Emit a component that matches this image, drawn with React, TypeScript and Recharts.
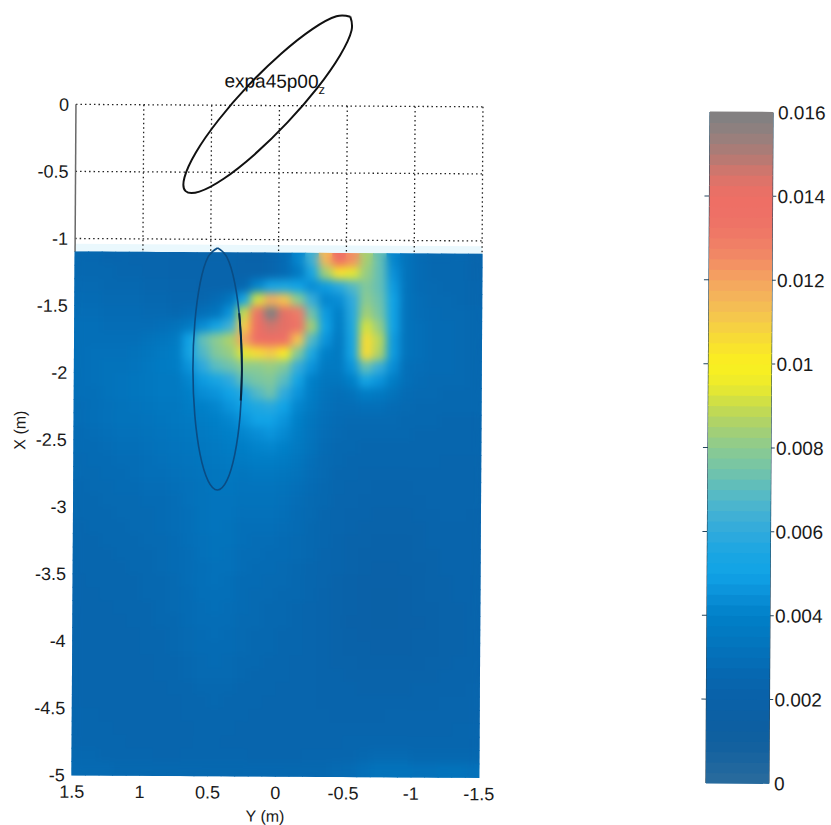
import React from 'react';
import { ReferenceArea, ReferenceLine, Scatter, ScatterChart, XAxis, YAxis } from 'recharts';

// cell values are in units of 0.0001, one row per 0.1 m of X starting at -1.15
const heatRows = [
  [26,26,25,25,24,24,24,23,23,23,23,23,22,22,24,28,42,64,115,140,124,85,72,42,32,28,26,26,26,24],
  [26,26,26,25,25,24,24,23,23,23,23,23,22,22,24,28,36,55,84,104,94,82,72,45,32,28,26,26,26,24],
  [27,27,26,26,26,25,25,24,24,23,23,23,26,42,52,55,50,44,48,58,68,78,72,48,32,28,27,26,26,25],
  [28,28,27,27,27,26,26,25,25,25,28,34,54,92,118,112,80,62,42,44,60,80,74,50,32,29,27,27,26,25],
  [29,29,28,28,28,27,27,26,28,30,34,46,90,134,160,142,130,74,48,40,58,84,76,50,32,29,28,27,27,26],
  [30,30,29,29,29,29,30,32,36,44,52,64,110,140,146,142,134,84,50,38,56,92,82,50,32,30,28,28,27,26],
  [30,30,30,30,30,32,34,36,50,72,80,86,120,138,140,136,112,68,46,36,54,106,88,48,32,30,28,28,27,26],
  [30,31,31,31,32,34,36,38,52,68,78,82,94,106,110,102,78,56,40,36,52,106,86,48,32,30,28,28,27,26],
  [30,31,32,32,33,35,37,38,46,60,70,74,80,80,82,78,62,46,36,36,46,72,62,44,30,29,28,28,27,26],
  [30,31,32,33,34,35,36,36,42,48,54,60,72,76,78,70,52,40,34,34,40,52,46,38,30,28,27,27,27,26],
  [30,30,32,33,34,35,36,36,40,44,46,50,58,68,74,60,46,38,32,30,32,38,36,32,28,27,27,26,26,26],
  [29,30,31,32,33,34,35,35,38,40,42,46,50,56,58,50,42,36,31,29,29,30,30,28,27,26,26,26,26,26],
  [29,30,31,32,32,33,34,35,36,38,40,42,46,50,50,46,40,34,30,28,27,27,27,27,26,26,26,25,25,25],
  [28,29,30,31,31,32,33,34,35,36,38,40,42,44,46,43,38,33,29,27,26,26,26,26,26,25,25,25,25,25],
  [28,28,29,30,30,31,32,33,34,35,36,38,39,41,42,40,36,32,28,26,26,25,25,25,25,25,25,25,25,25],
  [27,28,28,29,29,30,31,32,33,34,35,36,37,38,38,37,34,30,27,26,25,25,25,25,25,25,25,24,24,24],
  [27,27,28,28,29,30,30,31,32,33,34,35,34,35,35,34,32,29,27,25,25,24,24,24,24,24,24,24,24,24],
  [26,27,27,28,28,29,29,30,31,32,34,34,33,33,33,32,30,28,26,25,24,24,23,23,23,24,24,24,24,24],
  [26,26,27,27,27,28,28,29,31,32,33,33,32,32,32,31,29,27,26,24,24,23,23,23,23,23,24,24,24,24],
  [26,26,26,27,27,27,28,29,30,32,33,33,31,31,31,30,28,27,25,24,23,23,22,22,22,23,23,24,24,23],
  [25,26,26,26,27,27,28,29,30,32,33,32,30,30,30,29,28,26,25,24,23,22,22,22,22,22,23,23,23,23],
  [25,25,26,26,26,27,27,28,30,31,32,32,30,29,29,28,27,26,25,23,22,22,21,21,21,22,23,23,23,23],
  [25,25,25,26,26,26,27,28,29,31,32,31,29,29,28,28,27,26,24,23,22,21,21,21,21,22,22,23,23,23],
  [25,25,25,25,26,26,27,28,29,30,31,31,29,28,28,27,26,25,24,23,22,21,20,20,21,21,22,23,23,23],
  [24,25,25,25,25,26,26,27,29,30,31,30,28,28,27,27,26,25,24,22,21,20,20,20,20,21,22,22,23,23],
  [24,24,25,25,25,26,26,27,28,30,30,30,28,27,27,26,26,25,23,22,21,20,19,19,20,21,22,22,23,23],
  [24,24,24,25,25,25,26,27,28,29,30,29,28,27,26,26,25,24,23,22,21,20,19,19,20,21,21,22,22,23],
  [24,24,24,24,25,25,26,26,28,29,29,29,27,27,26,26,25,24,23,22,20,20,19,19,20,20,21,22,22,23],
  [24,24,24,24,24,25,25,26,27,28,29,28,27,26,26,25,25,24,23,22,21,20,20,20,20,21,21,22,22,23],
  [24,24,24,24,24,25,25,26,27,28,28,28,27,26,26,25,25,24,23,22,21,21,20,20,20,21,21,22,22,23],
  [24,24,24,24,24,24,25,25,26,27,28,27,26,26,25,25,24,24,23,22,22,21,21,21,21,21,22,22,23,23],
  [24,24,24,24,24,24,25,25,26,27,27,27,26,25,25,25,24,24,23,23,22,22,22,22,22,22,22,23,23,23],
  [24,24,24,24,24,24,24,25,25,26,26,26,25,25,25,24,24,24,23,23,23,22,22,22,22,23,23,23,23,24],
  [24,24,24,24,24,24,24,24,25,25,26,25,25,25,24,24,24,24,23,23,23,23,23,23,23,23,23,24,24,24],
  [25,25,24,24,24,24,24,24,25,25,25,25,25,24,24,24,24,24,24,23,23,23,23,24,24,24,24,24,24,24],
  [25,25,25,24,24,24,24,24,24,25,25,25,24,24,24,24,24,24,24,24,24,24,24,24,24,24,24,24,25,25],
  [25,25,25,25,24,24,24,24,24,25,25,24,24,24,24,24,24,24,24,24,25,25,25,25,25,25,25,25,25,25],
  [26,26,25,25,25,25,24,24,25,25,25,25,25,24,24,24,24,25,25,25,25,26,27,27,27,26,26,26,26,26],
  [27,27,27,26,26,26,26,26,26,26,26,26,26,26,26,26,26,26,26,27,28,30,32,32,32,31,31,32,32,31],
];

const xTicks = [1.5, 1, 0.5, 0, -0.5, -1, -1.5];
const yTicks = [0, -0.5, -1, -1.5, -2, -2.5, -3, -3.5, -4, -4.5, -5];
const gridRows = [0, -0.5, -1];
const barTicks = [0, 0.002, 0.004, 0.006, 0.008, 0.01, 0.012, 0.014, 0.016];

// colorbar read every 0.0005 from 0 to 0.016
const colormap = [
  '#2b6b9c','#1c659f','#10609f','#0c5fa3','#0a61a8','#0766ae','#046fb8','#0278c0','#0080c8','#0a90d8',
  '#11a3e6','#1aa6e2','#30aadd','#45b2d2','#5bbcc0','#74c4a8','#8ccb90','#a8d070','#c8dc4c','#ecea2c',
  '#fbf01e','#f8e030','#f5cc48','#f4b858','#f4a460','#f28c64','#ef7a66','#ee7066','#ee6e64','#d8746a',
  '#b07a74','#92807e','#7e8082',
];

const upperEllipse = [
  { y: -0.518, x: 0.666 }, { y: -0.528, x: 0.564 }, { y: -0.444, x: 0.377 }, { y: -0.28, x: 0.136 },
  { y: -0.06, x: -0.125 }, { y: 0.181, x: -0.365 }, { y: 0.408, x: -0.548 }, { y: 0.586, x: -0.645 },
  { y: 0.688, x: -0.642 }, { y: 0.697, x: -0.54 }, { y: 0.614, x: -0.353 }, { y: 0.45, x: -0.112 },
  { y: 0.23, x: 0.149 }, { y: -0.012, x: 0.389 }, { y: -0.239, x: 0.572 }, { y: -0.416, x: 0.669 },
  { y: -0.518, x: 0.666 },
];

const lowerEllipse = [
  { y: 0.45, x: -1.064 }, { y: 0.381, x: -1.132 }, { y: 0.321, x: -1.327 }, { y: 0.281, x: -1.62 },
  { y: 0.265, x: -1.965 }, { y: 0.276, x: -2.311 }, { y: 0.314, x: -2.604 }, { y: 0.371, x: -2.799 },
  { y: 0.44, x: -2.869 }, { y: 0.509, x: -2.801 }, { y: 0.569, x: -2.606 }, { y: 0.61, x: -2.312 },
  { y: 0.626, x: -1.967 }, { y: 0.614, x: -1.622 }, { y: 0.577, x: -1.329 }, { y: 0.52, x: -1.133 },
  { y: 0.45, x: -1.064 },
];

const lowerEllipseDark = [
  { y: 0.287, x: -1.55 }, { y: 0.272, x: -1.75 }, { y: 0.265, x: -1.965 }, { y: 0.272, x: -2.2 },
];

const FONT = '"Liberation Sans", Arial, sans-serif';
const tickStyle = { fontSize: 18, fontFamily: FONT, fill: '#1a1a1a' };

const PLOT_W = 407;
const PLOT_H = 670.5;
const cellW = PLOT_W / 30;
const cellH = PLOT_H / 50;

const hex = (s: string, i: number) => parseInt(s.slice(1 + i * 2, 3 + i * 2), 16);

// v is in units of 0.0001; blend the two nearest colorbar entries
const colorAt = (v: number) => {
  const t = Math.max(0, Math.min(colormap.length - 1.001, v / 5));
  const i = Math.floor(t);
  const mix = (k: number) => Math.round(hex(colormap[i], k) + (hex(colormap[i + 1], k) - hex(colormap[i], k)) * (t - i));
  return `rgb(${mix(0)},${mix(1)},${mix(2)})`;
};

const heatCells = heatRows.flatMap((row, r) =>
  row.map((v, c) => ({ y: 1.45 - c * 0.1, x: -1.15 - r * 0.1, v })),
);

const barCells = Array.from({ length: 64 }, (_, i) => ({ px: 0.5, level: (i + 0.5) * 0.00025 }));

const HeatCell = (p: any) => (
  <rect
    x={p.cx - cellW / 2 - 0.5}
    y={p.cy - cellH / 2 - 0.5}
    width={cellW + 1}
    height={cellH + 1}
    fill={colorAt(p.payload.v)}
  />
);

const BAR_W = 63;
const BAR_H = 671;
const BarCell = (p: any) => (
  <rect
    x={p.cx - BAR_W / 2}
    y={p.cy - BAR_H / 128 - 0.5}
    width={BAR_W}
    height={BAR_H / 64 + 1}
    fill={colorAt(p.payload.level * 10000)}
  />
);

const NoPoint = () => <g />;

export default function App() {
  return (
    <div
      style={{
        position: 'absolute',
        left: 0,
        top: 0,
        width: 831,
        height: 825,
        transform: 'rotate(0.35deg)',
        transformOrigin: '0 0',
      }}
    >
      <style>{`.heat-blur { filter: url(#heatBlur); clip-path: inset(0); }`}</style>
      <div style={{ position: 'absolute', left: 0, top: 0 }}>
        <ScatterChart width={520} height={825} margin={{ top: 10, right: 36.4, left: 0, bottom: 0 }}>
          <defs>
            <filter id="heatBlur" x="-5%" y="-5%" width="110%" height="110%" colorInterpolationFilters="sRGB">
              <feGaussianBlur stdDeviation="4" />
            </filter>
          </defs>
          <XAxis
            type="number"
            dataKey="y"
            domain={[-1.5, 1.5]}
            reversed
            ticks={xTicks}
            interval={0}
            height={50.5}
            axisLine={false}
            tickLine={false}
            tickMargin={4}
            tick={tickStyle}
          />
          <YAxis
            type="number"
            dataKey="x"
            domain={[-5, 0.7]}
            ticks={yTicks}
            interval={0}
            width={76.6}
            axisLine={false}
            tickLine={false}
            tickMargin={1}
            tick={tickStyle}
          />
          <ReferenceArea x1={-1.5} x2={1.5} y1={-1.04} y2={-1.1} fill="#eaf8fd" fillOpacity={1} stroke="none" />
          {gridRows.map((row) => (
            <ReferenceLine
              key={row}
              segment={[{ x: 1.5, y: row }, { x: -1.5, y: row }]}
              stroke="#222222"
              strokeWidth={1.3}
              strokeDasharray="1.5 3"
            />
          ))}
          {xTicks.slice(1).map((tick) => (
            <ReferenceLine
              key={tick}
              segment={[{ x: tick, y: 0 }, { x: tick, y: -1.1 }]}
              stroke="#222222"
              strokeWidth={1.3}
              strokeDasharray="1.5 3"
            />
          ))}
          <ReferenceLine segment={[{ x: 1.5, y: 0 }, { x: 1.5, y: -1.1 }]} stroke="#6a6a6a" strokeWidth={1.5} />
          <Scatter data={heatCells} shape={HeatCell} isAnimationActive={false} />
          <Scatter data={heatCells} shape={HeatCell} className="heat-blur" isAnimationActive={false} />
          <Scatter
            data={lowerEllipse}
            shape={NoPoint}
            line={{ stroke: '#0a4c84', strokeWidth: 1.6 }}
            lineJointType="natural"
            isAnimationActive={false}
          />
          <Scatter
            data={lowerEllipseDark}
            shape={NoPoint}
            line={{ stroke: '#07263f', strokeWidth: 2 }}
            lineJointType="natural"
            isAnimationActive={false}
          />
          <Scatter
            data={upperEllipse}
            shape={NoPoint}
            line={{ stroke: '#111111', strokeWidth: 2 }}
            lineJointType="natural"
            isAnimationActive={false}
          />
          <text x={225} y={86} fontSize={19} fontFamily={FONT} fill="#111111">
            expa45p00
            <tspan dy={6} fontSize={13}>z</tspan>
          </text>
          <text x={270} y={820} fontSize={16} fontFamily={FONT} fill="#1a1a1a" textAnchor="middle">
            Y (m)
          </text>
          <text
            x={28}
            y={430}
            fontSize={16}
            fontFamily={FONT}
            fill="#1a1a1a"
            textAnchor="middle"
            transform="rotate(-90 28 430)"
          >
            X (m)
          </text>
        </ScatterChart>
      </div>
      <div style={{ position: 'absolute', left: 0, top: 0 }}>
        <ScatterChart width={831} height={825} margin={{ top: 107.7, right: 0, left: 710.7, bottom: 46.3 }}>
          <XAxis type="number" dataKey="px" domain={[0, 1]} hide />
          <YAxis
            type="number"
            dataKey="level"
            orientation="right"
            domain={[0, 0.016]}
            ticks={barTicks}
            interval={0}
            width={57.3}
            axisLine={false}
            tickLine={false}
            tickMargin={-1}
            tick={{ ...tickStyle, fontSize: 19 }}
            tickFormatter={(v: number) => String(v)}
          />
          <Scatter data={barCells} shape={BarCell} isAnimationActive={false} />
          <ReferenceLine x={0} stroke="#24465e" strokeWidth={1.2} />
          <ReferenceLine x={1} stroke="#24465e" strokeWidth={1.2} />
          {barTicks.slice(1, -1).map((tick) => (
            <ReferenceLine
              key={tick}
              segment={[{ x: -0.08, y: tick }, { x: 0.06, y: tick }]}
              stroke="#24465e"
              ifOverflow="visible"
            />
          ))}
          {barTicks.slice(1, -1).map((tick) => (
            <ReferenceLine
              key={`r${tick}`}
              segment={[{ x: 0.94, y: tick }, { x: 1.06, y: tick }]}
              stroke="#24465e"
              ifOverflow="visible"
            />
          ))}
        </ScatterChart>
      </div>
    </div>
  );
}
